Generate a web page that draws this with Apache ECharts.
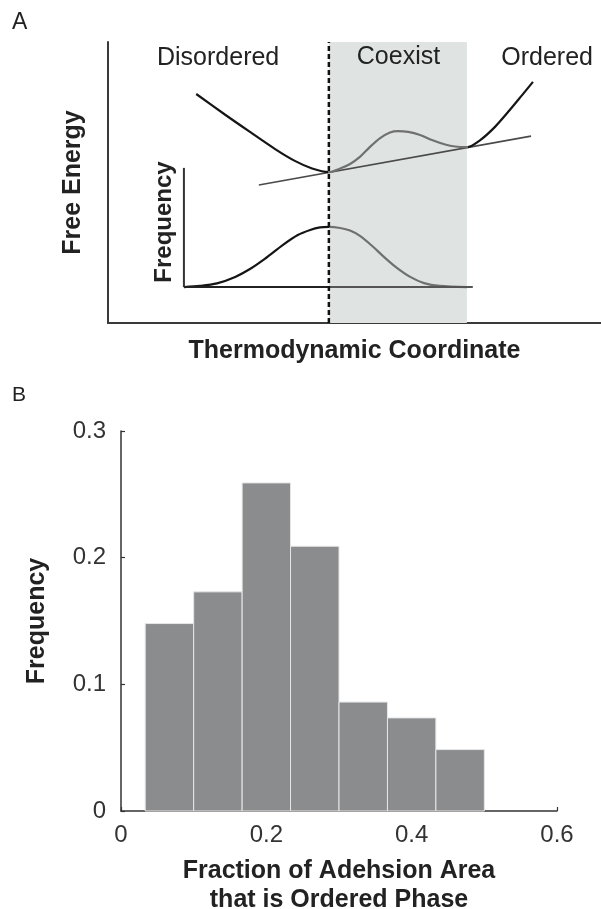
<!DOCTYPE html>
<html>
<head>
<meta charset="utf-8">
<script src="https://cdn.jsdelivr.net/npm/echarts@6/dist/echarts.min.js"></script>
<style>
html,body{margin:0;padding:0;background:#fff;}
#chart{width:601px;height:909px;}
</style>
</head>
<body>
<div id="chart"></div>
<script>
// ---------- Panel A (schematic, arbitrary units 0..10) ----------
const coexistStart = 4.48;
const coexistEnd = 7.28;
const freeEnergyPoints = [
  [1.79,8.15],[2.37,7.42],[2.88,6.80],[3.39,6.19],[3.79,5.77],[4.14,5.50],[4.48,5.37],
  [4.71,5.50],[4.91,5.66],[5.11,5.91],[5.31,6.26],[5.52,6.58],[5.72,6.78],[5.88,6.83],
  [6.09,6.80],[6.33,6.69],[6.57,6.51],[6.84,6.35],[7.04,6.28],[7.28,6.26],
  [7.55,6.51],[7.85,6.98],[8.15,7.58],[8.40,8.11],[8.62,8.58]
];
const commonTangent = [[3.06,4.91],[8.58,6.65]];
const freqAxisV = [[1.54,1.28],[1.54,5.52]];
const freqBaseLeft = [[1.54,1.28],[4.48,1.28]];
const freqBaseRight = [[4.48,1.28],[7.40,1.28]];
const freqPoints = [
  [1.54,1.28],[1.87,1.32],[2.21,1.41],[2.58,1.64],[2.88,1.92],[3.18,2.28],[3.55,2.78],
  [3.85,3.13],[4.10,3.31],[4.30,3.40],[4.48,3.42],[4.71,3.38],[4.91,3.29],[5.11,3.10],
  [5.36,2.74],[5.58,2.38],[5.84,1.99],[6.13,1.64],[6.41,1.42],[6.73,1.32],[7.28,1.28]
];
const phaseLabels = ['Disordered','Coexist','Ordered'];

// ---------- Panel B (histogram) ----------
const binEdges = [0.0333,0.1,0.1667,0.2333,0.3,0.3667,0.4333,0.5];
const frequencies = [0.148,0.173,0.259,0.209,0.086,0.0735,0.0485];
const xTicksB = [0,0.2,0.4,0.6];
const yTicksB = [0,0.1,0.2,0.3];

const FONT = 'Liberation Sans, Arial, sans-serif';
const BLACK = '#151515';
const GRAY = '#707070';

const histData = frequencies.map((f,i)=>[binEdges[i], binEdges[i+1], f]);

// horizontal gradient with hard stops: black outside coexistence region, gray inside
function phaseGradient(points){
  const x0 = points[0][0], x1 = points[points.length-1][0];
  const s = Math.max(0, Math.min(1, (coexistStart - x0) / (x1 - x0)));
  const e = Math.max(0, Math.min(1, (coexistEnd - x0) / (x1 - x0)));
  return {type:'linear', x:0, y:0, x2:1, y2:0, global:false, colorStops:[
    {offset:0, color:BLACK},{offset:s, color:BLACK},{offset:s, color:GRAY},
    {offset:e, color:GRAY},{offset:e, color:BLACK},{offset:1, color:BLACK}]};
}

const chart = echarts.init(document.getElementById('chart'), null, {renderer:'canvas'});

function line(data, color, width, extra){
  return Object.assign({
    type:'line', xAxisIndex:0, yAxisIndex:0, data:data, showSymbol:false, symbol:'none',
    smooth:false, lineStyle:{color:color, width:width}, silent:true, z:5
  }, extra||{});
}

const option = {
  animation:false,
  backgroundColor:'#ffffff',
  textStyle:{fontFamily:FONT},
  grid:[
    {left:108, top:42, width:493, height:281, containLabel:false, outerBoundsMode:'none'},
    {left:121, top:431, width:436, height:380, containLabel:false, outerBoundsMode:'none'}
  ],
  xAxis:[
    {gridIndex:0, type:'value', min:0, max:10,
     axisLine:{show:true, onZero:false, lineStyle:{color:'#3a3a3a', width:2}},
     axisTick:{show:false}, axisLabel:{show:false}, splitLine:{show:false},
     name:'Thermodynamic Coordinate', nameLocation:'middle', nameGap:16,
     nameTextStyle:{fontFamily:FONT, fontWeight:'bold', fontSize:25, color:'#222'}},
    {gridIndex:1, type:'value', min:0, max:0.6, interval:0.2,
     axisLine:{show:true, onZero:false, lineStyle:{color:'#333', width:1.5}},
     axisTick:{show:true, inside:true, length:4, lineStyle:{color:'#333', width:1.2}},
     axisLabel:{show:true, fontFamily:FONT, fontSize:24, color:'#333', margin:12,
       formatter:v=>xTicksB.includes(+v.toFixed(1)) ? String(+v.toFixed(1)) : ''},
     splitLine:{show:false},
     name:'Fraction of Adehsion Area\nthat is Ordered Phase', nameLocation:'middle', nameGap:46,
     nameTextStyle:{fontFamily:FONT, fontWeight:'bold', fontSize:25, color:'#222', lineHeight:29, verticalAlign:'top'}}
  ],
  yAxis:[
    {gridIndex:0, type:'value', min:0, max:10,
     axisLine:{show:true, onZero:false, lineStyle:{color:'#3a3a3a', width:2}},
     axisTick:{show:false}, axisLabel:{show:false}, splitLine:{show:false},
     name:'Free Energy', nameLocation:'middle', nameGap:22,
     nameTextStyle:{fontFamily:FONT, fontWeight:'bold', fontSize:25, color:'#222'}},
    {gridIndex:1, type:'value', min:0, max:0.3, interval:0.1,
     axisLine:{show:true, onZero:false, lineStyle:{color:'#333', width:1.5}},
     axisTick:{show:true, inside:true, length:4, lineStyle:{color:'#333', width:1.2}},
     axisLabel:{show:true, fontFamily:FONT, fontSize:24, color:'#333', margin:15,
       formatter:v=>yTicksB.includes(+v.toFixed(1)) ? String(+v.toFixed(1)) : ''},
     splitLine:{show:false},
     name:'Frequency', nameLocation:'middle', nameGap:71,
     nameTextStyle:{fontFamily:FONT, fontWeight:'bold', fontSize:25, color:'#222'}}
  ],
  series:[
    {type:'line', xAxisIndex:0, yAxisIndex:0, data:[], silent:true,
     markArea:{silent:true, itemStyle:{color:'#dfe4e3'},
       data:[[{xAxis:coexistStart, yAxis:0},{xAxis:coexistEnd, yAxis:10}]]}, z:1},
    line(commonTangent, '#4a4a4a', 1.6, {z:4}),
    line(freeEnergyPoints, phaseGradient(freeEnergyPoints), 2.2, {smooth:0.3}),
    line(freqAxisV, '#333', 2),
    line(freqPoints, phaseGradient(freqPoints), 2.2, {smooth:0.3}),
    line(freqBaseLeft, '#222', 2),
    line(freqBaseRight, '#555', 2),
    line([[coexistStart,0],[coexistStart,10]], '#111', 2.4, {z:8,
      lineStyle:{color:'#111', width:2.5, type:[5,3]}}),
    {type:'custom', xAxisIndex:1, yAxisIndex:1, data:histData, silent:true, z:3,
     renderItem:function(params, api){
       const p0 = api.coord([api.value(0), api.value(2)]);
       const p1 = api.coord([api.value(1), 0]);
       return {type:'rect', shape:{x:p0[0], y:p0[1], width:p1[0]-p0[0], height:p1[1]-p0[1]},
         style:{fill:'#8b8c8e', stroke:'#e6e6e6', lineWidth:1}};
     }}
  ],
  graphic:[
    {type:'text', left:12, top:11, z:20, style:{text:'A', fontFamily:FONT, fontSize:23, fill:'#222'}},
    {type:'text', left:12, top:385, z:20, style:{text:'B', fontFamily:FONT, fontSize:21, fill:'#222'}},
    {type:'text', x:157, y:58, z:20, style:{text:phaseLabels[0], fontFamily:FONT, fontSize:25, fill:'#222', verticalAlign:'middle', align:'left'}},
    {type:'text', x:398.5, y:57, z:20, style:{text:phaseLabels[1], fontFamily:FONT, fontSize:25, fill:'#222', verticalAlign:'middle', align:'center'}},
    {type:'text', x:593, y:58, z:20, style:{text:phaseLabels[2], fontFamily:FONT, fontSize:25, fill:'#222', verticalAlign:'middle', align:'right'}},
    {type:'text', x:164, y:222, rotation:Math.PI/2, z:20, style:{text:'Frequency', fontFamily:FONT, fontWeight:'bold', fontSize:24, fill:'#222', verticalAlign:'middle', align:'center'}}
  ]
};
chart.setOption(option);
</script>
</body>
</html>
